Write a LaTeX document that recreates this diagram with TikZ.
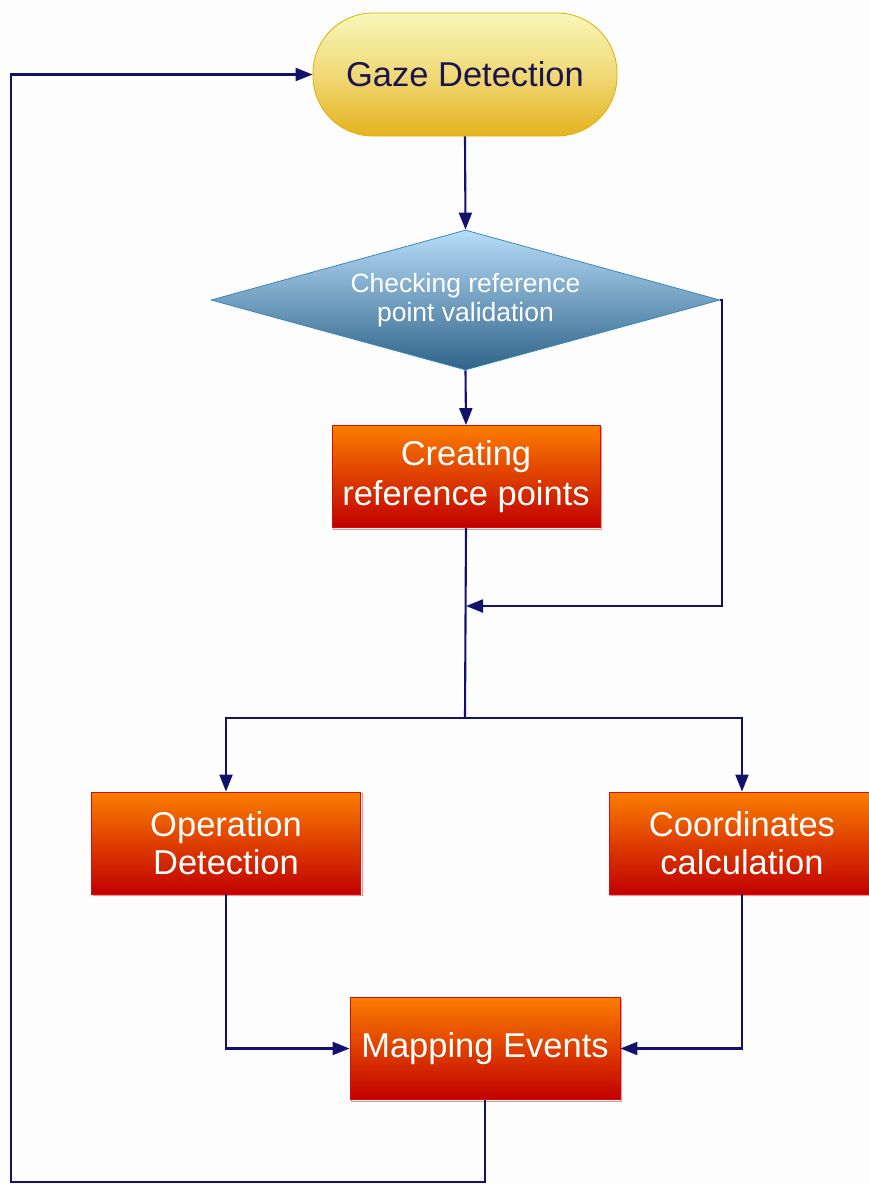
\documentclass[tikz,border=0pt]{standalone}
\usepackage{fontspec}
\setmainfont{Liberation Sans}
\usetikzlibrary{arrows.meta,shapes.geometric,shadows}
\definecolor{linecol}{HTML}{12126C}
\definecolor{bgcol}{HTML}{FDFDFD}
\definecolor{ytop}{HTML}{F8F7BA}
\definecolor{ymid}{HTML}{F0D976}
\definecolor{ybot}{HTML}{E4B31F}
\definecolor{yborder}{HTML}{E0B000}
\definecolor{btop}{HTML}{B8DDF9}
\definecolor{bbot}{HTML}{2E6388}
\definecolor{bborder}{HTML}{3A8ABB}
\definecolor{otop}{HTML}{FB7D00}
\definecolor{obot}{HTML}{C10000}
\definecolor{oborder}{HTML}{D01010}
\definecolor{gazetext}{HTML}{1C1450}
\tikzset{
  startbox/.style={rectangle, rounded corners=60pt, minimum width=304pt, minimum height=123pt,
    inner sep=0pt, top color=ytop, bottom color=ybot, middle color=ymid, draw=yborder, line width=0.8pt,
    text=gazetext, font=\fontsize{34.5}{38}\selectfont},
  checkbox/.style={diamond, shape aspect=3.636, minimum width=509pt, minimum height=140pt,
    inner sep=0pt, top color=btop, bottom color=bbot, draw=bborder, line width=0.8pt,
    text=white, align=center, font=\fontsize{26.5}{29.5}\selectfont},
  procbox/.style={rectangle, minimum width=269pt, minimum height=102pt, inner sep=0pt,
    top color=otop, bottom color=obot, draw=oborder, line width=0.8pt,
    general shadow={shadow xshift=1.6pt, shadow yshift=-1.6pt, draw=red!45, fill=none, line width=0.8pt},
    text=white, align=center, font=\fontsize{34.5}{37.5}\selectfont},
  wire/.style={draw=linecol, line width=2.1pt},
  conn/.style={wire, -{Triangle[length=17pt,width=13pt]}},
}
\begin{document}
\begin{tikzpicture}[x=1pt,y=-1pt]
\fill[bgcol] (0,0) rectangle (869,1184);
\useasboundingbox (0,0) rectangle (869,1184);

\node[startbox] (gaze) at (465,74.5) {Gaze Detection};
\node[checkbox] (check) at (465.5,300) {Checking reference\\point validation};
\node[procbox, minimum width=268pt] (create) at (466,476.5) {\raisebox{2pt}{Creating}\\reference points};
\node[procbox] (op) at (226,843) {Operation\\Detection};
\node[procbox, minimum width=266pt] (coord) at (742,843) {Coordinates\\calculation};
\node[procbox, minimum width=270pt] (map) at (485,1048.5) {Mapping Events};

\coordinate (merge) at (466,606);
\coordinate (split) at (465,718);
\coordinate (corner) at (11,1182);

\draw[conn] (gaze.south) -- (check.north);
\draw[conn] (check.south) -- (create.north);
\draw[conn] (check.east) -- ([xshift=2pt]check.east) |- (merge);
\draw[wire] (create.south) -- (split);
\draw[conn] (split) -| (op.north);
\draw[conn] (split) -| (coord.north);
\draw[conn] (op.south) |- (map.west);
\draw[conn] (coord.south) |- (map.east);
\draw[conn] (map.south) |- (corner) |- (gaze.west);
\end{tikzpicture}
\end{document}
